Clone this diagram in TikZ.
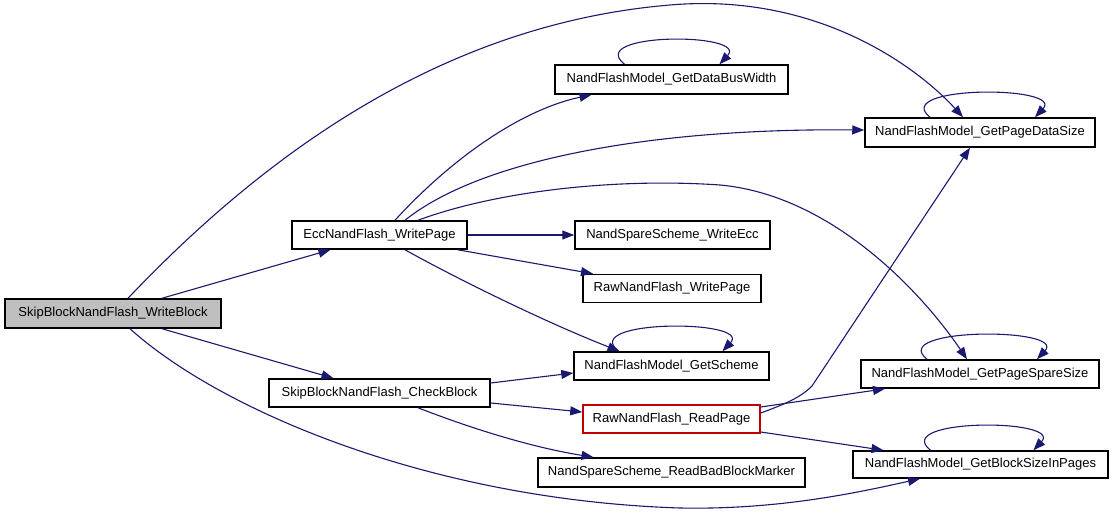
\documentclass[tikz,border=0pt]{standalone}
\usepackage{fontspec}
\setmainfont{Liberation Sans}
\usetikzlibrary{arrows.meta}
\definecolor{edgec}{RGB}{25,25,112}
\definecolor{fillg}{RGB}{191,191,191}
\definecolor{redb}{RGB}{192,0,0}
\begin{document}
\begin{tikzpicture}[x=1pt,y=-1pt,
  box/.style={draw=black, line width=1.5pt, inner sep=0pt, font=\fontsize{13}{15}\selectfont},
  edge/.style={draw=edgec, line width=1.1pt, -{Triangle[length=12pt,width=9pt]}}]
\useasboundingbox (0,0) rectangle (1112,516);
\node[box, fill=fillg, minimum width=216, minimum height=29] (wb) at (113,313.5) {SkipBlockNandFlash\_WriteBlock};
\node[box, minimum width=175, minimum height=28] (ecc) at (379.5,235) {EccNandFlash\_WritePage};
\node[box, minimum width=221, minimum height=28] (cb) at (379.5,393) {SkipBlockNandFlash\_CheckBlock};
\node[box, minimum width=233, minimum height=29] (dbw) at (671.5,79.5) {NandFlashModel\_GetDataBusWidth};
\node[box, minimum width=230, minimum height=29] (pds) at (980,132.5) {NandFlashModel\_GetPageDataSize};
\node[box, minimum width=195, minimum height=28] (wecc) at (672.5,235) {NandSpareScheme\_WriteEcc};
\node[box, minimum width=178, minimum height=28] (rwp) at (672,288.5) {RawNandFlash\_WritePage};
\node[box, minimum width=195, minimum height=28] (gs) at (671.5,366) {NandFlashModel\_GetScheme};
\node[box, draw=redb, minimum width=177, minimum height=28] (rrp) at (671.5,419) {RawNandFlash\_ReadPage};
\node[box, minimum width=267, minimum height=29] (rbbm) at (671.5,472.5) {NandSpareScheme\_ReadBadBlockMarker};
\node[box, minimum width=238, minimum height=28] (pss) at (980,374) {NandFlashModel\_GetPageSpareSize};
\node[box, minimum width=255, minimum height=27] (bsp) at (980.5,464.5) {NandFlashModel\_GetBlockSizeInPages};

\draw[edge] ([xshift=49]wb.north) -- ([xshift=-49]ecc.south);
\draw[edge] ([xshift=49]wb.south) -- ([xshift=-46]cb.north);
\draw[edge] ([xshift=15]wb.north) .. controls (250,170) and (430,25) .. (670,5) .. controls (820,-8) and (920,70) .. ([xshift=-17]pds.north);
\draw[edge] ([xshift=17]wb.south) .. controls (220,410) and (430,500) .. (680,508) .. controls (780,510) and (860,492) .. ([xshift=-60.5]bsp.south);
\draw[edge] ([xshift=15.5]ecc.north) .. controls (450,160) and (520,110) .. ([xshift=-80]dbw.south);
\draw[edge] ([xshift=25.5]ecc.north) .. controls (480,160) and (650,128) .. ([yshift=2.5]pds.west);
\draw[edge] ([xshift=38.5]ecc.north) .. controls (500,190) and (620,178) .. (720,185) .. controls (830,195) and (920,290) .. ([xshift=-13]pss.north);
\draw[edge] (ecc.east) -- (wecc.west);
\draw[edge] ([xshift=78]ecc.south) -- ([xshift=-79]rwp.north);
\draw[edge] ([xshift=25.5]ecc.south) .. controls (450,275) and (540,320) .. ([xshift=-52]gs.north);
\draw[edge] ([yshift=10]cb.east) -- ([yshift=-7]gs.west);
\draw[edge] ([yshift=-10]cb.east) -- ([yshift=7]rrp.west);
\draw[edge] ([xshift=38.5]cb.south) .. controls (470,428) and (530,447) .. ([xshift=-78]rbbm.north);
\draw[edge] ([yshift=6]rrp.east) .. controls (785,404) and (800,398) .. (812,386) -- ([xshift=-10]pds.south);
\draw[edge] ([yshift=12]rrp.east) -- ([xshift=-95]pss.south);
\draw[edge] ([yshift=-13]rrp.east) -- ([xshift=-97]bsp.north);

\draw[edge] ([xshift=-47]dbw.north) .. controls +(-40,-32) and +(30,-32) .. ([xshift=48]dbw.north);
\draw[edge] ([xshift=-50]pds.north) .. controls +(-40,-32) and +(30,-32) .. ([xshift=55]pds.north);
\draw[edge] ([xshift=-53]gs.north) .. controls +(-40,-32) and +(30,-32) .. ([xshift=51]gs.north);
\draw[edge] ([xshift=-53]pss.north) .. controls +(-40,-32) and +(30,-32) .. ([xshift=57]pss.north);
\draw[edge] ([xshift=-50]bsp.north) .. controls +(-40,-32) and +(30,-32) .. ([xshift=53]bsp.north);
\end{tikzpicture}
\end{document}
